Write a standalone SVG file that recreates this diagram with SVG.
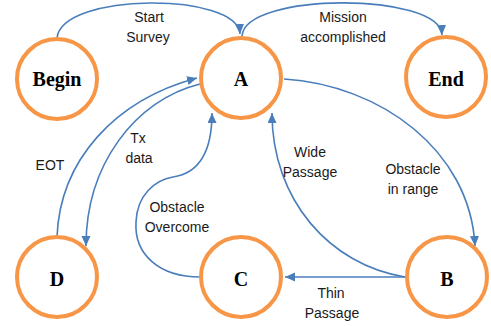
<svg xmlns="http://www.w3.org/2000/svg" width="491" height="326" viewBox="0 0 491 326">
<style>
.node circle{fill:#fff;stroke:#F79646;stroke-width:4}
.node text{font-family:"Liberation Serif","Times New Roman",serif;font-weight:bold;font-size:20px;text-anchor:middle;fill:#000}
.edge{fill:none;stroke:#4A7EBB;stroke-width:1.6;marker-end:url(#arr)}
.lbl{font-family:"Liberation Sans",Arial,sans-serif;font-size:14px;text-anchor:middle;fill:#1a1a1a}
</style>
<defs>
<marker id="arr" markerUnits="userSpaceOnUse" markerWidth="11" markerHeight="10" refX="10" refY="4.5" orient="auto">
<path d="M0,0 L10,4.5 L0,9 z" fill="#4A7EBB"/>
</marker>
</defs>
<rect width="491" height="326" fill="#fff"/>
<g id="connectors">
<path class="edge" d="M57,38 C 62,-8 238,-8 240,34"/>
<path class="edge" d="M242,36 C 245,-8 440,-8 442,35"/>
<path class="edge" d="M57,237 C 60,160 115,100 197,78"/>
<path class="edge" d="M200,84 C 135,100 86,165 86,246"/>
<path class="edge" d="M200,277 C 160,277 134,255 136,222 C 137,195 155,180 173,177 C 200,173 212,150 212,113"/>
<path class="edge" d="M284,79 C 380,85 470,150 475,246"/>
<path class="edge" d="M405,277 C 330,265 272,200 272,113"/>
<path class="edge" d="M405,277 L285,277"/>
</g>
<g id="labels">
<text class="lbl" x="149" y="22">Start</text>
<text class="lbl" x="148" y="42">Survey</text>
<text class="lbl" x="343" y="22">Mission</text>
<text class="lbl" x="343" y="42">accomplished</text>
<text class="lbl" x="50" y="170">EOT</text>
<text class="lbl" x="138" y="143">Tx</text>
<text class="lbl" x="139" y="163">data</text>
<text class="lbl" x="177" y="212">Obstacle</text>
<text class="lbl" x="177" y="232">Overcome</text>
<text class="lbl" x="310" y="157">Wide</text>
<text class="lbl" x="310" y="177">Passage</text>
<text class="lbl" x="413" y="174">Obstacle</text>
<text class="lbl" x="413" y="194">in range</text>
<text class="lbl" x="331" y="298">Thin</text>
<text class="lbl" x="332" y="318">Passage</text>
</g>
<g id="node-begin" class="node"><circle cx="57" cy="79" r="40"/><text x="57" y="86">Begin</text></g>
<g id="node-a" class="node"><circle cx="241" cy="78" r="40"/><text x="241" y="86">A</text></g>
<g id="node-end" class="node"><circle cx="446" cy="77" r="40"/><text x="446" y="86">End</text></g>
<g id="node-d" class="node"><circle cx="57" cy="277" r="40"/><text x="57" y="286">D</text></g>
<g id="node-c" class="node"><circle cx="241" cy="277" r="40"/><text x="241" y="286">C</text></g>
<g id="node-b" class="node"><circle cx="447" cy="277" r="40"/><text x="447" y="286">B</text></g>
</svg>
